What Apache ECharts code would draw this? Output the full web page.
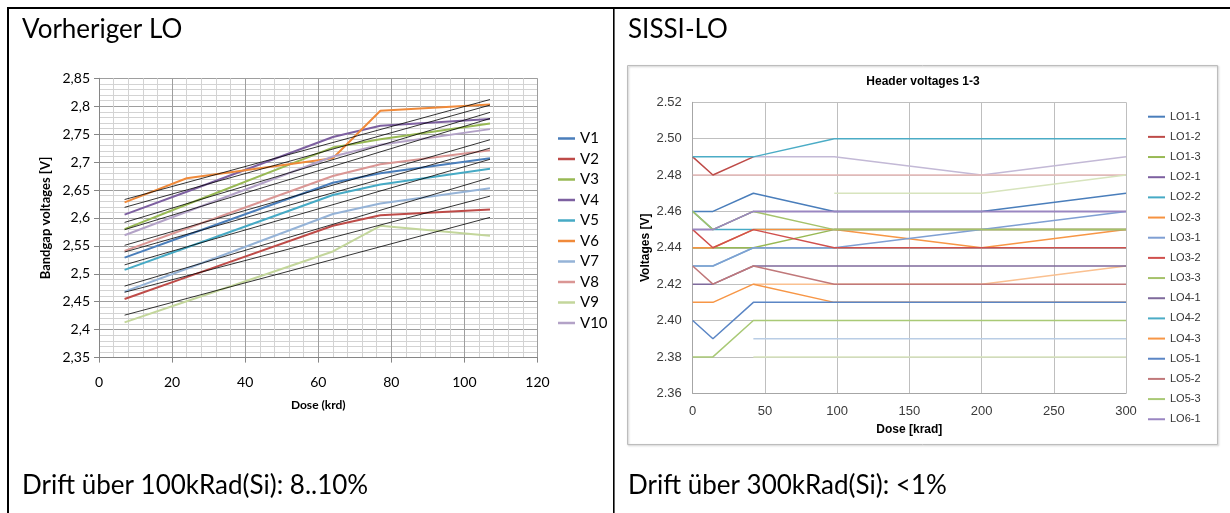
<!DOCTYPE html>
<html>
<head>
<meta charset="utf-8">
<script src="https://cdn.jsdelivr.net/npm/echarts@6/dist/echarts.min.js"></script>
<style>
  html, body { margin: 0; padding: 0; background: #fff; }
  #chart { width: 1230px; height: 513px; }
</style>
</head>
<body>
<div id="chart"></div>
<script>
// left chart: previous LO, bandgap voltages vs dose
const leftDose = [7, 24, 64, 77, 107];
const leftNames = ["V1", "V2", "V3", "V4", "V5", "V6", "V7", "V8", "V9", "V10"];
const leftColors = ["#4A7EBB", "#BE4B48", "#98B954", "#7D60A0", "#46AAC5",
  "#F08A3A", "#95B3D7", "#DA9694", "#C3D69B", "#B3A2C7"];
const V1 = [2.529, 2.569, 2.663, 2.680, 2.707];
const V2 = [2.455, 2.494, 2.586, 2.605, 2.615];
const V3 = [2.580, 2.624, 2.726, 2.741, 2.769];
const V4 = [2.606, 2.647, 2.745, 2.765, 2.777];
const V5 = [2.507, 2.547, 2.641, 2.660, 2.688];
const V6 = [2.628, 2.671, 2.707, 2.792, 2.803];
const V7 = [2.468, 2.509, 2.607, 2.626, 2.653];
const V8 = [2.541, 2.581, 2.675, 2.696, 2.721];
const V9 = [2.413, 2.451, 2.540, 2.586, 2.568];
const V10 = [2.569, 2.611, 2.710, 2.731, 2.759];
const leftValues = [V1, V2, V3, V4, V5, V6, V7, V8, V9, V10];

// thin black trend lines (start / end)
const trendDose = [7, 107];
const trendStart = [2.539, 2.467, 2.592, 2.619, 2.516, 2.633, 2.478, 2.551, 2.426, 2.579];
const trendEnd = [2.725, 2.639, 2.789, 2.802, 2.705, 2.812, 2.672, 2.740, 2.601, 2.778];

// right chart: SISSI-LO header voltages
const rightDose = [0, 14, 42, 98, 200, 300];
const rightNames = ["LO1-1", "LO1-2", "LO1-3", "LO2-1", "LO2-2", "LO2-3", "LO3-1", "LO3-2",
  "LO3-3", "LO4-1", "LO4-2", "LO4-3", "LO5-1", "LO5-2", "LO5-3", "LO6-1"];
const rightColors = ["#4A7EBB", "#BE4B48", "#98B954", "#7D60A0", "#46AAC5", "#F69240",
  "#7F9FD3", "#D0504D", "#A5C26A", "#7F6A9C", "#4BACC6", "#F79646",
  "#5B86C5", "#C0787A", "#A9C976", "#9A86C2"];
const rightValues = [
  [2.46, 2.46, 2.47, 2.46, 2.46, 2.47],
  [2.49, 2.48, 2.49, null, null, null],
  [2.44, 2.44, 2.44, 2.45, 2.45, 2.45],
  [2.45, 2.45, 2.46, 2.46, 2.46, 2.46],
  [2.46, 2.45, 2.45, 2.45, 2.45, 2.45],
  [2.44, 2.44, 2.45, 2.45, 2.45, 2.45],
  [2.43, 2.43, 2.44, 2.44, 2.45, 2.46],
  [2.45, 2.44, 2.45, 2.44, 2.44, 2.44],
  [2.46, 2.45, 2.46, 2.45, 2.45, 2.45],
  [2.42, 2.42, 2.43, 2.43, 2.43, 2.43],
  [2.49, 2.49, 2.49, 2.50, 2.50, 2.50],
  [2.41, 2.41, 2.42, 2.41, 2.41, 2.41],
  [2.40, 2.39, 2.41, 2.41, 2.41, 2.41],
  [2.43, 2.42, 2.43, 2.42, 2.42, 2.42],
  [2.38, 2.38, 2.40, 2.40, 2.40, 2.40],
  [2.45, 2.45, 2.46, 2.46, 2.46, 2.46],
];
// further series in the plot that have no legend entry
const extraNames = ["LO6-2", "LO6-3", "LO7-1", "LO7-2", "LO7-3", "LO8-1", "LO8-2", "LO8-3"];
const extraColors = ["#C3B9D6", "#E6B9B8", "#D7E4BD", "#F79646", "#FAC090", "#B9CDE5", "#D7E4BD", "#7CC3D3"];
const extraValues = [
  [null, null, 2.49, 2.49, 2.48, 2.49],
  [2.48, 2.48, 2.48, 2.48, 2.48, 2.48],
  [null, null, null, 2.47, 2.47, 2.48],
  [null, null, null, 2.45, 2.44, 2.45],
  [null, null, 2.42, 2.42, 2.42, 2.43],
  [null, null, 2.39, 2.39, 2.39, 2.39],
  [null, null, 2.38, 2.38, 2.38, 2.38],
  [2.43, 2.43, 2.44, 2.44, 2.44, 2.44],
];

const calibri = "Lato";
const arial = "'Liberation Sans', Arial";

const series = [];
leftNames.forEach((name, i) => {
  series.push({
    name: name,
    type: "line",
    xAxisIndex: 0,
    yAxisIndex: 0,
    symbol: "none",
    data: leftDose.map((d, j) => [d, leftValues[i][j]]),
    lineStyle: { width: 2, color: leftColors[i] },
    itemStyle: { color: leftColors[i] },
  });
});
leftNames.forEach((name, i) => {
  series.push({
    name: "Linear (" + name + ")",
    type: "line",
    xAxisIndex: 0,
    yAxisIndex: 0,
    symbol: "none",
    data: [[trendDose[0], trendStart[i]], [trendDose[1], trendEnd[i]]],
    lineStyle: { width: 0.8, color: "#000" },
    itemStyle: { color: "#000" },
  });
});
extraNames.forEach((name, i) => {
  series.push({
    name: name,
    type: "line",
    xAxisIndex: 1,
    yAxisIndex: 1,
    symbol: "none",
    data: rightDose.map((d, j) => [d, extraValues[i][j]]),
    lineStyle: { width: 1.5, color: extraColors[i] },
    itemStyle: { color: extraColors[i] },
  });
});
rightNames.forEach((name, i) => {
  series.push({
    name: name,
    type: "line",
    xAxisIndex: 1,
    yAxisIndex: 1,
    symbol: "none",
    data: rightDose.map((d, j) => [d, rightValues[i][j]]),
    lineStyle: { width: 1.5, color: rightColors[i] },
    itemStyle: { color: rightColors[i] },
  });
});

const option = {
  animation: false,
  graphic: [
    // table lines
    { type: "rect", shape: { x: 7, y: 7, width: 1223, height: 2 }, style: { fill: "#000" } },
    { type: "rect", shape: { x: 7, y: 7, width: 2, height: 506 }, style: { fill: "#000" } },
    { type: "rect", shape: { x: 613, y: 7, width: 1.6, height: 506 }, style: { fill: "#000" } },
    { type: "text", x: 22, y: 30, style: { text: "Vorheriger LO", font: "26px " + calibri, fill: "#000", verticalAlign: "middle" } },
    { type: "text", x: 628, y: 30, style: { text: "SISSI-LO", font: "26px " + calibri, fill: "#000", verticalAlign: "middle" } },
    { type: "text", x: 22, y: 486, style: { text: "Drift über 100kRad(Si): 8..10%", font: "26px " + calibri, fill: "#000", verticalAlign: "middle" } },
    { type: "text", x: 628, y: 486, style: { text: "Drift über 300kRad(Si): <1%", font: "26px " + calibri, fill: "#000", verticalAlign: "middle" } },
    // right chart frame
    {
      type: "rect",
      shape: { x: 627.5, y: 65.5, width: 590, height: 379 },
      style: { fill: "transparent", stroke: "#BDBDBD", lineWidth: 1, shadowBlur: 2, shadowOffsetX: 1, shadowOffsetY: 1, shadowColor: "rgba(0,0,0,0.25)" },
    },
    { type: "text", x: 923, y: 82, style: { text: "Header voltages 1-3", font: "bold 12px " + arial, fill: "#000", align: "center", verticalAlign: "middle" } },
  ],
  grid: [
    { left: 99, top: 78.3, width: 438.5, height: 279.3 },
    { left: 692.7, top: 102.3, width: 433.3, height: 291 },
  ],
  xAxis: [
    {
      gridIndex: 0,
      type: "value",
      min: 0,
      max: 120,
      interval: 20,
      name: "Dose (krd)",
      nameLocation: "middle",
      nameGap: 42,
      nameTextStyle: { fontFamily: calibri, fontWeight: "bold", fontSize: 12, color: "#000" },
      axisLine: { lineStyle: { color: "#868686" } },
      axisTick: { show: true, length: 5, lineStyle: { color: "#868686" } },
      axisLabel: { margin: 18, fontFamily: calibri, fontSize: 14, color: "#000" },
      splitLine: { show: true, lineStyle: { color: "#9E9E9E", width: 1 } },
      minorTick: { show: false, splitNumber: 5 },
      minorSplitLine: { show: true, lineStyle: { color: "#D3D3D3", width: 1 } },
    },
    {
      gridIndex: 1,
      type: "value",
      min: 0,
      max: 300,
      interval: 50,
      name: "Dose [krad]",
      nameLocation: "middle",
      nameGap: 30,
      nameTextStyle: { fontFamily: arial, fontWeight: "bold", fontSize: 12, color: "#000" },
      axisLine: { lineStyle: { color: "#A6A6A6" } },
      axisTick: { show: false },
      axisLabel: { margin: 12, fontFamily: arial, fontSize: 13, color: "#3A3A3A" },
      splitLine: { show: true, lineStyle: { color: "#BFBFBF", width: 1 } },
    },
  ],
  yAxis: [
    {
      gridIndex: 0,
      type: "value",
      min: 2.35,
      max: 2.85,
      interval: 0.05,
      name: "Bandgap voltages [V]",
      nameLocation: "middle",
      nameGap: 47,
      nameTextStyle: { fontFamily: calibri, fontWeight: "bold", fontSize: 13, color: "#000" },
      axisLine: { show: true, lineStyle: { color: "#868686" } },
      axisTick: { show: true, length: 5, lineStyle: { color: "#868686" } },
      axisLabel: {
        margin: 9,
        fontFamily: calibri,
        fontSize: 14,
        color: "#000",
        formatter: (v) => String(Math.round(v * 100) / 100).replace(".", ","),
      },
      splitLine: { show: true, lineStyle: { color: "#9E9E9E", width: 1 } },
      minorTick: { show: false, splitNumber: 5 },
      minorSplitLine: { show: true, lineStyle: { color: "#D3D3D3", width: 1 } },
    },
    {
      gridIndex: 1,
      type: "value",
      min: 2.36,
      max: 2.52,
      interval: 0.02,
      name: "Voltages [V]",
      nameLocation: "middle",
      nameGap: 41,
      nameTextStyle: { fontFamily: arial, fontWeight: "bold", fontSize: 12, color: "#000" },
      axisLine: { show: true, lineStyle: { color: "#A6A6A6" } },
      axisTick: { show: false },
      axisLabel: { margin: 11, fontFamily: arial, fontSize: 13, color: "#3A3A3A", formatter: (v) => v.toFixed(2) },
      splitLine: { show: true, lineStyle: { color: "#BFBFBF", width: 1 } },
    },
  ],
  legend: [
    {
      data: leftNames,
      orient: "vertical",
      left: 558,
      top: 131,
      padding: 0,
      icon: "rect",
      itemWidth: 17,
      itemHeight: 2.5,
      itemGap: 5.5,
      textStyle: { fontFamily: calibri, fontSize: 15, lineHeight: 14, color: "#000" },
    },
    {
      data: rightNames,
      orient: "vertical",
      left: 1148,
      top: 110.7,
      padding: 0,
      icon: "rect",
      itemWidth: 17,
      itemHeight: 2,
      itemGap: 8.17,
      textStyle: { fontFamily: arial, fontSize: 11, lineHeight: 12, color: "#333" },
    },
  ],
  series: series,
};

const chart = echarts.init(document.getElementById("chart"));
chart.setOption(option);
window.addEventListener("resize", () => {
  chart.resize();
});
</script>
</body>
</html>
